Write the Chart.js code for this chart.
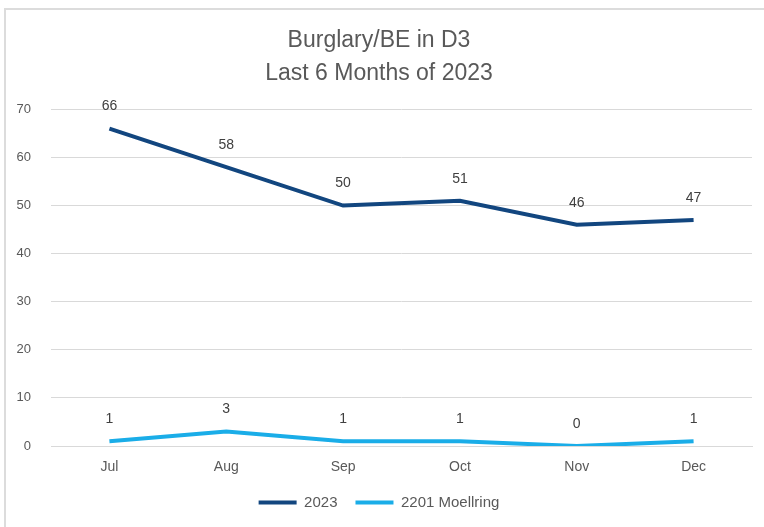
<!DOCTYPE html>
<html>
<head>
<meta charset="utf-8">
<script src="https://cdn.jsdelivr.net/npm/chart.js@4"></script>
<style>
  html, body { margin: 0; padding: 0; background: #fff; overflow: hidden; }
  #frame {
    position: absolute; left: 4px; top: 8px;
    width: 800px; height: 519px;
    border-top: 2px solid #dcdcdc;
    border-left: 2px solid #dcdcdc;
  }
  #wrap { position: absolute; left: 0; top: 0; width: 762px; height: 517px; }
</style>
</head>
<body>
<div id="frame">
  <div id="wrap"><canvas id="myChart"></canvas></div>
</div>
<script>
const months = ['Jul', 'Aug', 'Sep', 'Oct', 'Nov', 'Dec'];
const total2023 = [66, 58, 50, 51, 46, 47];
const moellring = [1, 3, 1, 1, 0, 1];
const titleLines = ['Burglary/BE in D3', 'Last 6 Months of 2023'];

const plain = "'Liberation Sans', Arial, sans-serif";

// simple value labels above every point
const pointLabels = {
  id: 'pointLabels',
  afterDatasetsDraw(chart) {
    const ctx = chart.ctx;
    ctx.save();
    ctx.font = '14px ' + plain;
    ctx.fillStyle = '#404040';
    ctx.textAlign = 'center';
    ctx.textBaseline = 'middle';
    chart.data.datasets.forEach((ds, i) => {
      chart.getDatasetMeta(i).data.forEach((pt, j) => {
        ctx.fillText(ds.data[j], pt.x, pt.y - 22);
      });
    });
    ctx.restore();
  }
};

const ctx = document.getElementById('myChart');

new Chart(ctx, {
  type: 'line',
  data: {
    labels: months,
    datasets: [{
      label: '2023',
      data: total2023,
      borderColor: '#12467f',
      backgroundColor: '#12467f',
      borderWidth: 4,
      pointRadius: 0,
      tension: 0
    }, {
      label: '2201 Moellring',
      data: moellring,
      borderColor: '#1aade8',
      backgroundColor: '#1aade8',
      borderWidth: 4,
      pointRadius: 0,
      tension: 0
    }]
  },
  options: {
    responsive: true,
    maintainAspectRatio: false,
    animation: false,
    layout: { padding: { left: 0, right: 16, top: 0, bottom: 7 } },
    plugins: {
      title: {
        display: true,
        text: titleLines,
        color: '#595959',
        font: { family: plain, size: 23, weight: 'normal', lineHeight: 1.4 },
        padding: { top: 15, bottom: 20 }
      },
      legend: {
        position: 'bottom',
        labels: {
          color: '#595959',
          font: { family: plain, size: 15 },
          usePointStyle: true,
          pointStyle: 'line',
          pointStyleWidth: 38,
          padding: 18
        }
      },
      tooltip: { enabled: false }
    },
    scales: {
      x: {
        offset: true,
        afterFit(scale) { scale.height = 31; },
        grid: { display: false, drawTicks: false },
        border: { display: true, color: '#d9d9d9', width: 1 },
        ticks: { color: '#595959', font: { family: plain, size: 14 }, padding: 13 }
      },
      y: {
        min: 0,
        max: 70,
        afterFit(scale) { scale.width = 45; },
        grid: { color: '#d9d9d9', drawTicks: false },
        border: { display: false },
        ticks: { stepSize: 10, color: '#595959', font: { family: plain, size: 13 }, padding: 20 }
      }
    }
  },
  plugins: [pointLabels]
});
</script>
</body>
</html>
